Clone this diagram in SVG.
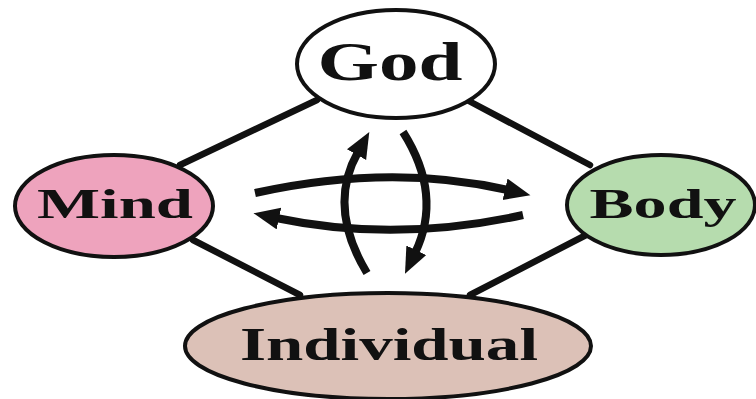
<svg xmlns="http://www.w3.org/2000/svg" width="756" height="399" viewBox="0 0 756 399">
<style>
.node{stroke:#111;stroke-width:4}
.lbl{font-family:"Liberation Serif","Times New Roman",serif;font-weight:bold;fill:#111;text-anchor:middle}
.edge{stroke:#111;stroke-width:6.5;fill:none;stroke-linecap:round}
.arr{stroke:#111;stroke-width:8;fill:none}
</style>
<defs>
<marker id="ah" markerUnits="userSpaceOnUse" markerWidth="30" markerHeight="26" refX="3" refY="11" orient="auto">
<path d="M0,0 L26,11 L0,22 z" fill="#111"/>
</marker>
</defs>
<rect width="756" height="399" fill="#fff"/>
<g id="connectors">
<line class="edge" x1="180" y1="165" x2="317" y2="100"/>
<line class="edge" x1="467" y1="100" x2="590" y2="165"/>
<line class="edge" x1="193" y1="240" x2="300" y2="295"/>
<line class="edge" x1="590" y1="233" x2="470" y2="295"/>
<path class="arr" d="M255,193 Q390,163 508,190" marker-end="url(#ah)"/>
<path class="arr" d="M523,215 Q395,243 276,218" marker-end="url(#ah)"/>
<path class="arr" d="M367,273 Q327,207 358,152" marker-end="url(#ah)"/>
<path class="arr" d="M403,132 Q443,195 415,253" marker-end="url(#ah)"/>
</g>
<g id="god">
<ellipse class="node" cx="396" cy="64" rx="99" ry="54" fill="#ffffff"/>
<text class="lbl" x="390" y="80" font-size="55" textLength="145" lengthAdjust="spacingAndGlyphs">God</text>
</g>
<g id="mind">
<ellipse class="node" cx="114" cy="206" rx="99" ry="51" fill="#eea3bd"/>
<text class="lbl" x="115" y="218" font-size="43" textLength="156" lengthAdjust="spacingAndGlyphs">Mind</text>
</g>
<g id="body">
<ellipse class="node" cx="661" cy="205" rx="94" ry="50" fill="#b6dcae"/>
<text class="lbl" x="663" y="218" font-size="43" textLength="147" lengthAdjust="spacingAndGlyphs">Body</text>
</g>
<g id="individual">
<ellipse class="node" cx="388" cy="346" rx="203" ry="53" fill="#dcc1b7"/>
<text class="lbl" x="389" y="360" font-size="46" textLength="298" lengthAdjust="spacingAndGlyphs">Individual</text>
</g>
</svg>
